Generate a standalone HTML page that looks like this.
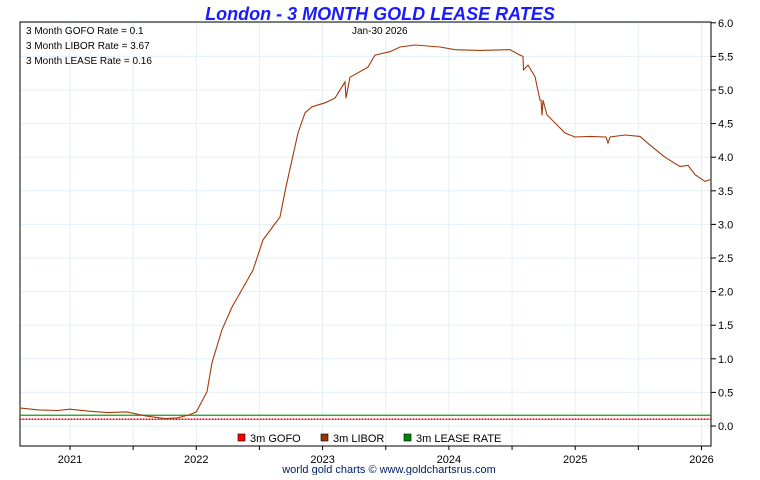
<!DOCTYPE html>
<html><head><meta charset="utf-8"><style>
body{margin:0;background:#fff;font-family:"Liberation Sans",sans-serif}
svg text{font-family:"Liberation Sans",sans-serif}
</style></head><body>
<svg width="760" height="475" xmlns="http://www.w3.org/2000/svg">
<text x="380" y="20" text-anchor="middle" font-size="18" font-weight="bold" font-style="italic" fill="#1a1aff">London - 3 MONTH GOLD LEASE RATES</text>
<g id="grid"></g>
<rect x="20" y="22" width="691" height="424" fill="none" stroke="#000" stroke-width="1"/>
<g id="marks"></g>
<g id="axes" font-size="11"></g>
<text x="26" y="34" font-size="10">3 Month GOFO Rate = 0.1</text>
<text x="26" y="49" font-size="10">3 Month LIBOR Rate = 3.67</text>
<text x="26" y="64" font-size="10">3 Month LEASE Rate = 0.16</text>
<text x="352" y="34" font-size="10">Jan-30  2026</text>
<g font-size="11">
<rect x="238" y="434" width="7" height="7" fill="#f00" stroke="#000" stroke-width="0.6"/>
<text x="250" y="442">3m GOFO</text>
<rect x="321" y="434" width="7" height="7" fill="#993300" stroke="#000" stroke-width="0.6"/>
<text x="333" y="442">3m LIBOR</text>
<rect x="404" y="434" width="7" height="7" fill="#080" stroke="#000" stroke-width="0.6"/>
<text x="416" y="442">3m LEASE RATE</text>
</g>
<text x="389" y="473" font-size="11" text-anchor="middle" fill="#002266">world gold charts © www.goldchartsrus.com</text>
</svg>
<script>
const dates=[2020.6,2020.75,2020.9,2021.0,2021.15,2021.3,2021.45,2021.6,2021.75,2021.85,2021.95,2022.0,2022.085,2022.124,2022.203,2022.283,2022.449,2022.528,2022.663,2022.71,2022.758,2022.805,2022.861,2022.916,2023.019,2023.098,2023.177,2023.185,2023.217,2023.359,2023.415,2023.534,2023.613,2023.732,2023.93,2024.048,2024.246,2024.484,2024.563,2024.587,2024.591,2024.626,2024.682,2024.721,2024.729,2024.737,2024.745,2024.777,2024.84,2024.919,2024.998,2025.117,2025.244,2025.26,2025.276,2025.394,2025.513,2025.592,2025.711,2025.83,2025.893,2025.949,2026.028,2026.075];
const libor=[0.27,0.24,0.23,0.25,0.22,0.2,0.21,0.15,0.11,0.12,0.17,0.21,0.51,0.94,1.43,1.77,2.32,2.77,3.11,3.56,3.96,4.36,4.66,4.75,4.81,4.88,5.12,4.88,5.19,5.34,5.52,5.57,5.64,5.67,5.64,5.6,5.59,5.6,5.52,5.5,5.3,5.37,5.2,4.85,4.85,4.62,4.85,4.63,4.51,4.36,4.3,4.31,4.3,4.21,4.3,4.33,4.31,4.18,4.0,3.86,3.88,3.74,3.64,3.67];
const gofo=0.1, lease=0.16;
const yTicks=[0,0.5,1,1.5,2,2.5,3,3.5,4,4.5,5,5.5,6];
const years=[2021,2022,2023,2024,2025,2026];
const xS=t=>70+(t-2021)*126.3, yS=v=>426-v*67.2;
const NS="http://www.w3.org/2000/svg";
function mk(tag,attrs,parent){const e=document.createElementNS(NS,tag);for(const k in attrs)e.setAttribute(k,attrs[k]);parent.appendChild(e);return e;}
const grid=document.getElementById('grid'),axes=document.getElementById('axes'),marks=document.getElementById('marks');
yTicks.forEach(v=>{
 const g=mk('line',{x1:20,x2:711,y1:yS(v),y2:yS(v),stroke:'#e3eff8'},grid);
 
 
 const t=mk('line',{x1:711,x2:716,y1:yS(v),y2:yS(v),stroke:'#000'},axes);
 
 
 const l=mk('text',{x:718,y:yS(v)+4},axes);l.textContent=v.toFixed(1);
 
 
});
for(let t=2020.5;t<2026.2;t+=0.5){
 const x=xS(t); if(x<20||x>711)continue;
 const g=mk('line',{x1:x,x2:x,y1:22,y2:446,stroke:'#e3eff8'},grid);
 
 
 const tk=mk('line',{x1:x,x2:x,y1:446,y2:450,stroke:'#000'},axes);
 
 
}
years.forEach(y=>{
 const l=mk('text',{x:xS(y),y:463,'text-anchor':'middle'},axes);l.textContent=y;
 
 
});
const gl=mk('line',{x1:20,x2:711,y1:yS(gofo),y2:yS(gofo),stroke:'#f00','stroke-width':1.5,'stroke-dasharray':'1 0.5'},marks);


const ll=mk('line',{x1:20,x2:711,y1:yS(lease),y2:yS(lease),stroke:'#1a9a1a','stroke-width':1.2},marks);


const p=mk('polyline',{points:dates.map((d,i)=>xS(d).toFixed(1)+','+yS(libor[i]).toFixed(1)).join(' '),fill:'none',stroke:'#a33a0a','stroke-width':1.1},marks);


</script>
</body></html>
